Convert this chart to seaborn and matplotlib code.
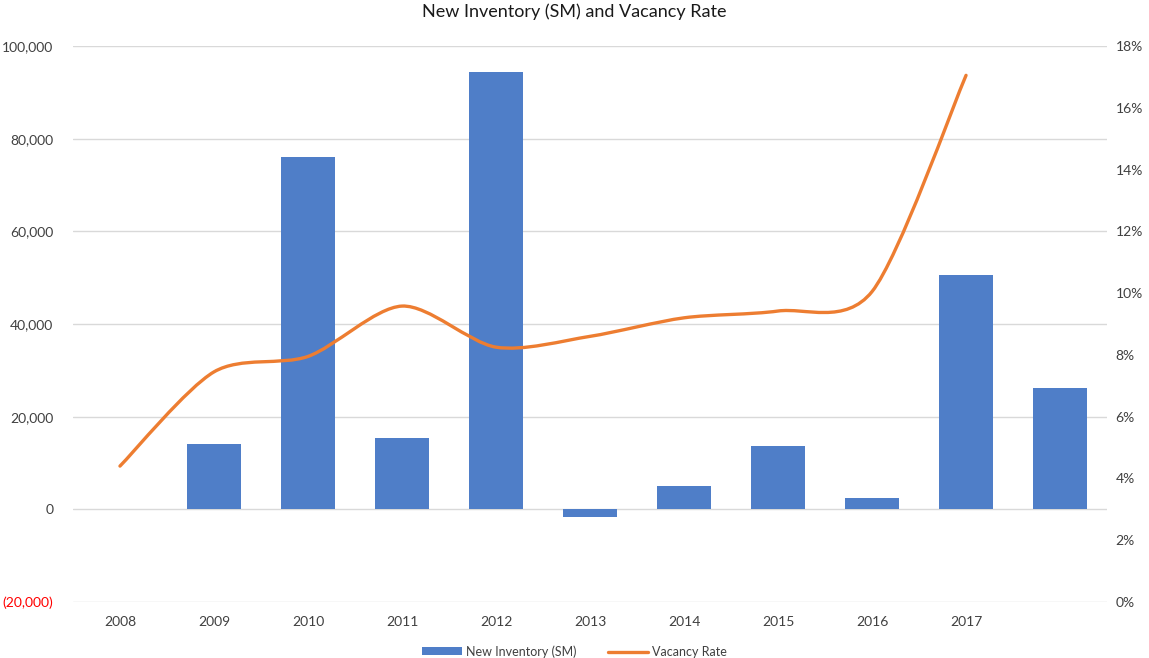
import matplotlib.pyplot as plt
import pandas as pd
import seaborn as sns
from matplotlib.lines import Line2D
from matplotlib.patches import Patch, PathPatch
from matplotlib.path import Path
from matplotlib.ticker import FuncFormatter

years = ['2008', '2009', '2010', '2011', '2012', '2013',
         '2014', '2015', '2016', '2017', '']
new_inventory = [0, 14200, 76100, 15300, 94300, -1700,
                 5000, 13600, 2400, 50500, 26100]
# vacancy rate in percent, 2008 - 2017
vacancy_rate = [4.4, 7.45, 7.95, 9.58, 8.25, 8.6, 9.2, 9.42, 10.05, 17.05]

BLUE = '#4F7EC8'
ORANGE = '#ED7D31'
GRID = '#D9D9D9'
TEXT = '#404040'


def smooth_path(xs, ys, k=7.0):
    # catmull-rom style bezier through the points (like excel's smoothed line)
    pts = list(zip(xs, ys))
    ext = [pts[0]] + pts + [pts[-1]]
    verts = [pts[0]]
    codes = [Path.MOVETO]
    for i in range(1, len(ext) - 2):
        p0, p1, p2, p3 = ext[i - 1], ext[i], ext[i + 1], ext[i + 2]
        c1 = (p1[0] + (p2[0] - p0[0]) / k, p1[1] + (p2[1] - p0[1]) / k)
        c2 = (p2[0] - (p3[0] - p1[0]) / k, p2[1] - (p3[1] - p1[1]) / k)
        verts += [c1, c2, p2]
        codes += [Path.CURVE4] * 3
    return Path(verts, codes)


def money(v, pos):
    if v < 0:
        return '({:,.0f})'.format(-v)
    return '{:,.0f}'.format(v)


def main():
    sns.set_style('white')
    plt.rcParams['font.family'] = ['Lato', 'DejaVu Sans']

    df = pd.DataFrame({'year': years, 'inventory': new_inventory})

    fig = plt.figure(figsize=(11.49, 6.58), dpi=100)
    ax = fig.add_axes([0.0635, 0.0851, 0.9, 0.845])

    sns.barplot(data=df, x='year', y='inventory', order=years, color=BLUE,
                saturation=1, width=0.58, linewidth=0, ax=ax, zorder=2)
    ax.set_xlim(-0.5, len(years) - 0.5)
    ax.set_ylim(-20000, 100000)
    ax.set_yticks(range(-20000, 100001, 20000))
    ax.yaxis.set_major_formatter(FuncFormatter(money))
    ax.grid(axis='y', color=GRID, linewidth=1, zorder=0)
    ax.set_axisbelow(True)
    ax.set_xlabel('')
    ax.set_ylabel('')
    for s in ax.spines.values():
        s.set_visible(False)
    ax.tick_params(axis='both', length=0, labelsize=10, colors=TEXT)
    ax.tick_params(axis='y', pad=14)
    ax.tick_params(axis='x', pad=10)
    for lab in ax.get_yticklabels():
        if lab.get_text().startswith('('):
            lab.set_color('#FF0000')

    ax2 = ax.twinx()
    ax2.set_ylim(0, 18)
    ax2.set_yticks(range(0, 19, 2))
    ax2.yaxis.set_major_formatter(FuncFormatter(lambda v, p: '{:.0f}%'.format(v)))
    for s in ax2.spines.values():
        s.set_visible(False)
    ax2.tick_params(axis='y', length=0, labelsize=10, colors=TEXT, pad=6)
    ax2.grid(False)
    path = smooth_path(list(range(len(vacancy_rate))), vacancy_rate)
    ax2.add_patch(PathPatch(path, facecolor='none', edgecolor=ORANGE,
                            linewidth=2.4, capstyle='round', zorder=3))

    fig.suptitle('New Inventory (SM) and Vacancy Rate', x=0.5, y=0.995,
                 fontsize=13, color='#1A1A1A')

    handles = [Patch(facecolor=BLUE, edgecolor='none'),
               Line2D([0], [0], color=ORANGE, linewidth=2.4)]
    fig.legend(handles, ['New Inventory (SM)', 'Vacancy Rate'],
               loc='center', bbox_to_anchor=(0.5, 0.01), ncol=2,
               frameon=False, fontsize=9, handlelength=3.2,
               handleheight=0.6, columnspacing=2.5, handletextpad=0.3,
               labelcolor=TEXT)

    fig.savefig('out.png', dpi=100)


if __name__ == '__main__':
    main()
